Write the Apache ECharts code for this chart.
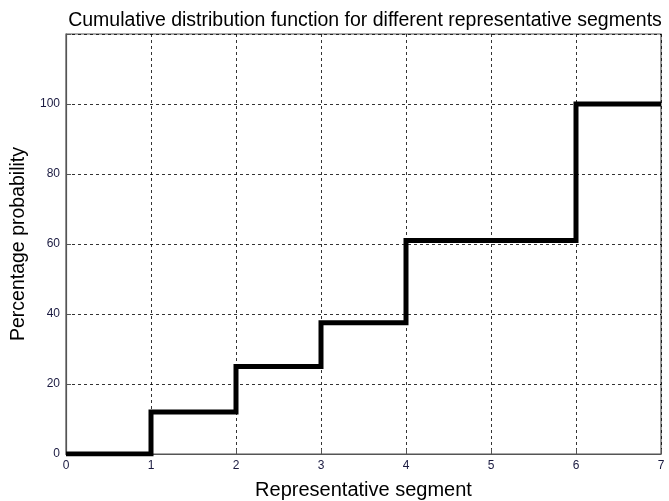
<!DOCTYPE html>
<html>
<head>
<meta charset="utf-8">
<script src="https://cdn.jsdelivr.net/npm/echarts@6/dist/echarts.min.js"></script>
<style>
  html, body { margin: 0; padding: 0; background: #fff; }
  #chart { width: 669px; height: 501px; }
</style>
</head>
<body>
<div id="chart"></div>
<script>
// Segment boundaries and cumulative probability (%) reached at each boundary
const segments = [0, 1, 2, 3, 4, 6, 7];
const cumulative = [0, 12, 25, 37.5, 61, 100, 100];
const xTicks = [0, 1, 2, 3, 4, 5, 6, 7];
const yTicks = [0, 20, 40, 60, 80, 100];

const chart = echarts.init(document.getElementById('chart'));
const font = 'Liberation Sans, Arial, sans-serif';

chart.setOption({
  animation: false,
  title: {
    text: 'Cumulative distribution function for different representative segments',
    left: 360,
    top: 6,
    textAlign: 'center',
    textStyle: { fontFamily: font, fontSize: 19.5, fontWeight: 'normal', color: '#000' }
  },
  grid: {
    left: 66, right: 8, top: 34, bottom: 47,
    outerBoundsMode: 'none',
    containLabel: false,
    show: true, borderColor: '#555', borderWidth: 1.2, backgroundColor: '#fff'
  },
  xAxis: {
    type: 'value',
    min: 0, max: 7, interval: 1,
    name: 'Representative segment',
    nameLocation: 'middle',
    nameGap: 26,
    nameTextStyle: { fontFamily: font, fontSize: 20, color: '#000' },
    axisLine: { show: true, lineStyle: { color: '#555', width: 1.2 } },
    axisTick: { show: true, inside: true, length: 5, lineStyle: { color: '#555' } },
    axisLabel: {
      fontFamily: font, fontSize: 12, color: '#1a1a40', margin: 6,
      formatter: v => xTicks.includes(v) ? String(v) : ''
    },
    splitLine: { show: true, lineStyle: { color: '#000', type: [3, 3], width: 0.8 } }
  },
  yAxis: {
    type: 'value',
    min: 0, max: 120, interval: 20,
    name: 'Percentage probability',
    nameLocation: 'middle',
    nameGap: 33,
    nameTextStyle: { fontFamily: font, fontSize: 19.5, color: '#000' },
    axisLine: { show: true, lineStyle: { color: '#555', width: 1.2 } },
    axisTick: { show: true, inside: true, length: 5, lineStyle: { color: '#555' } },
    axisLabel: {
      fontFamily: font, fontSize: 12, color: '#1a1a40', margin: 6,
      formatter: v => yTicks.includes(v) ? String(v) : ''
    },
    splitLine: {
      show: true,
      lineStyle: { color: '#000', type: [3, 3], width: 0.8 }
    }
  },
  series: [{
    type: 'line',
    step: 'end',
    data: segments.map((s, i) => [s, cumulative[i]]),
    symbol: 'none',
    lineStyle: { color: '#000', width: 5, join: 'miter', cap: 'butt' }
  }]
});
</script>
</body>
</html>
